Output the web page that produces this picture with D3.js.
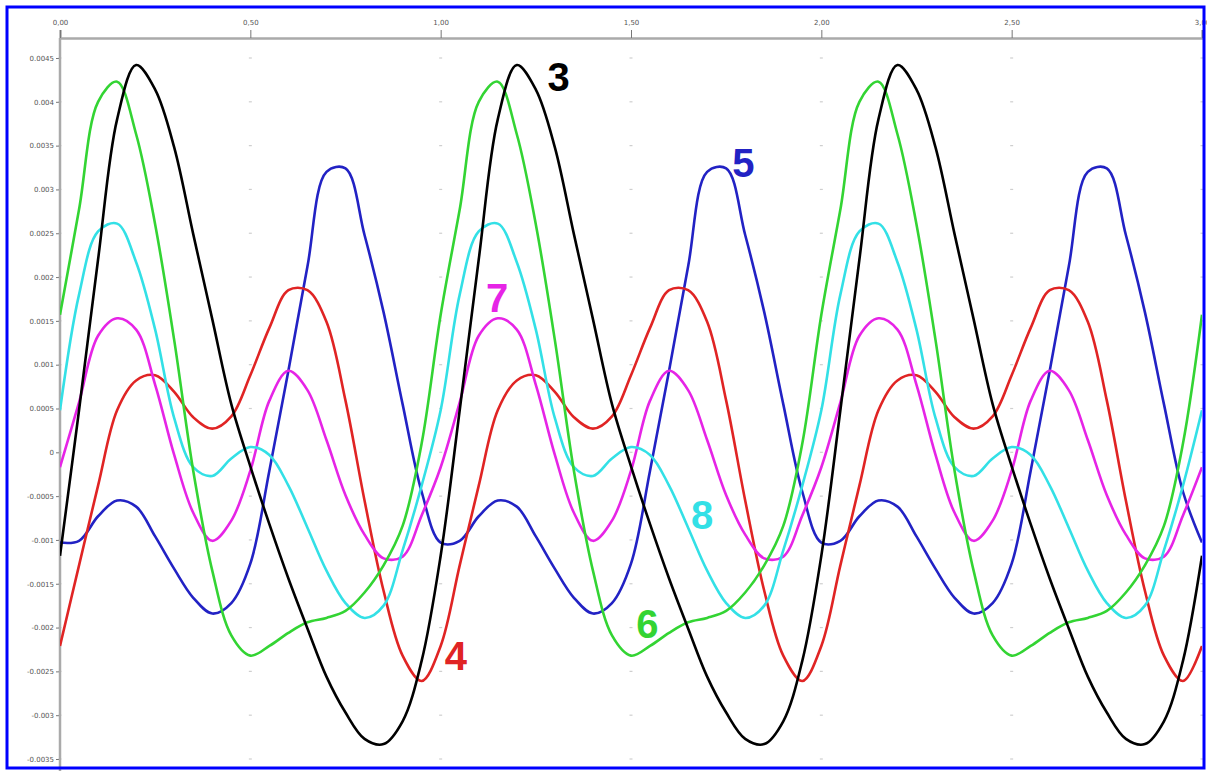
<!DOCTYPE html>
<html>
<head>
<meta charset="utf-8">
<script src="https://cdn.jsdelivr.net/npm/d3@7"></script>
<style>
  body { margin: 0; background: #fff; }
  svg { display: block; }
  .tick text { font-family: "DejaVu Sans", sans-serif; font-size: 7px; fill: #555; }
  .harm { font-family: "Liberation Sans", Arial, sans-serif; font-weight: bold; font-size: 40px; }
</style>
</head>
<body>
<svg id="chart"></svg>
<script>
// sample times (x axis units)
var times = [0,0.05,0.1,0.15,0.2,0.25,0.3,0.35,0.4,0.45,0.5,0.55,0.6,0.65,0.7,0.75,0.8,0.85,0.9,0.95,
  1,1.05,1.1,1.15,1.2,1.25,1.3,1.35,1.4,1.45,1.5,1.55,1.6,1.65,1.7,1.75,1.8,1.85,1.9,1.95,
  2,2.05,2.1,2.15,2.2,2.25,2.3,2.35,2.4,2.45,2.5,2.55,2.6,2.65,2.7,2.75,2.8,2.85,2.9,2.95,3];

var xTicks = [0, 0.5, 1, 1.5, 2, 2.5, 3];
var yTicks = [-0.0035,-0.003,-0.0025,-0.002,-0.0015,-0.001,-0.0005,0,0.0005,0.001,0.0015,0.002,0.0025,0.003,0.0035,0.004,0.0045];
var yTickLabels = ["-0.0035","-0.003","-0.0025","-0.002","-0.0015","-0.001","-0.0005","0","0.0005","0.001","0.0015","0.002","0.0025","0.003","0.0035","0.004","0.0045"];

var black3 = [-0.00118,0.00048,0.00220,0.00380,0.00442,0.00414,0.00348,0.00249,0.00152,0.00055,-0.00016,-0.00082,-0.00144,-0.00201,-0.00256,-0.00297,-0.00327,-0.00333,-0.00307,-0.00238,
  -0.00118,0.00048,0.00220,0.00380,0.00442,0.00414,0.00348,0.00249,0.00152,0.00055,-0.00016,-0.00082,-0.00144,-0.00201,-0.00256,-0.00297,-0.00327,-0.00333,-0.00307,-0.00238,
  -0.00118,0.00048,0.00220,0.00380,0.00442,0.00414,0.00348,0.00249,0.00152,0.00055,-0.00016,-0.00082,-0.00144,-0.00201,-0.00256,-0.00297,-0.00327,-0.00333,-0.00307,-0.00238,
  -0.00118];

var red4 = [-0.00221,-0.00129,-0.00038,0.00048,0.00082,0.00088,0.00069,0.00040,0.00027,0.00041,0.00088,0.00142,0.00185,0.00185,0.00149,0.00059,-0.00055,-0.00158,-0.00232,-0.00261,
  -0.00221,-0.00129,-0.00038,0.00048,0.00082,0.00088,0.00069,0.00040,0.00027,0.00041,0.00088,0.00142,0.00185,0.00185,0.00149,0.00059,-0.00055,-0.00158,-0.00232,-0.00261,
  -0.00221,-0.00129,-0.00038,0.00048,0.00082,0.00088,0.00069,0.00040,0.00027,0.00041,0.00088,0.00142,0.00185,0.00185,0.00149,0.00059,-0.00055,-0.00158,-0.00232,-0.00261,
  -0.00221];

var blue5 = [-0.00103,-0.00101,-0.00073,-0.00055,-0.00062,-0.00096,-0.00133,-0.00166,-0.00184,-0.00172,-0.00127,-0.00021,0.00093,0.00212,0.00320,0.00324,0.00248,0.00160,0.00055,-0.00045,
  -0.00103,-0.00101,-0.00073,-0.00055,-0.00062,-0.00096,-0.00133,-0.00166,-0.00184,-0.00172,-0.00127,-0.00021,0.00093,0.00212,0.00320,0.00324,0.00248,0.00160,0.00055,-0.00045,
  -0.00103,-0.00101,-0.00073,-0.00055,-0.00062,-0.00096,-0.00133,-0.00166,-0.00184,-0.00172,-0.00127,-0.00021,0.00093,0.00212,0.00320,0.00324,0.00248,0.00160,0.00055,-0.00045,
  -0.00103];

var green6 = [0.00157,0.00277,0.00400,0.00423,0.00363,0.00260,0.00128,-0.00021,-0.00135,-0.00209,-0.00232,-0.00221,-0.00206,-0.00194,-0.00189,-0.00181,-0.00160,-0.00129,-0.00084,0.00010,
  0.00157,0.00277,0.00400,0.00423,0.00363,0.00260,0.00128,-0.00021,-0.00135,-0.00209,-0.00232,-0.00221,-0.00206,-0.00194,-0.00189,-0.00181,-0.00160,-0.00129,-0.00084,0.00010,
  0.00157,0.00277,0.00400,0.00423,0.00363,0.00260,0.00128,-0.00021,-0.00135,-0.00209,-0.00232,-0.00221,-0.00206,-0.00194,-0.00189,-0.00181,-0.00160,-0.00129,-0.00084,0.00010,
  0.00157];

var magenta7 = [-0.00017,0.00057,0.00133,0.00153,0.00140,0.00077,-0.00003,-0.00069,-0.00101,-0.00078,-0.00021,0.00059,0.00093,0.00071,0.00014,-0.00049,-0.00094,-0.00121,-0.00119,-0.00072,
  -0.00017,0.00057,0.00133,0.00153,0.00140,0.00077,-0.00003,-0.00069,-0.00101,-0.00078,-0.00021,0.00059,0.00093,0.00071,0.00014,-0.00049,-0.00094,-0.00121,-0.00119,-0.00072,
  -0.00017,0.00057,0.00133,0.00153,0.00140,0.00077,-0.00003,-0.00069,-0.00101,-0.00078,-0.00021,0.00059,0.00093,0.00071,0.00014,-0.00049,-0.00094,-0.00121,-0.00119,-0.00072,
  -0.00017];

var cyan8 = [0.00048,0.00180,0.00252,0.00261,0.00217,0.00140,0.00039,-0.00017,-0.00027,-0.00007,0.00006,-0.00003,-0.00038,-0.00086,-0.00135,-0.00172,-0.00189,-0.00175,-0.00112,-0.00038,
  0.00048,0.00180,0.00252,0.00261,0.00217,0.00140,0.00039,-0.00017,-0.00027,-0.00007,0.00006,-0.00003,-0.00038,-0.00086,-0.00135,-0.00172,-0.00189,-0.00175,-0.00112,-0.00038,
  0.00048,0.00180,0.00252,0.00261,0.00217,0.00140,0.00039,-0.00017,-0.00027,-0.00007,0.00006,-0.00003,-0.00038,-0.00086,-0.00135,-0.00172,-0.00189,-0.00175,-0.00112,-0.00038,
  0.00048];

// series, drawn in this order
var seriesNames = ["5","4","7","8","6","3"];
var seriesValues = [blue5, red4, magenta7, cyan8, green6, black3];
var seriesColors = ["#2222c4","#e02424","#e624e6","#33e0e6","#33d433","#000000"];

// label positions in data units (x, y of baseline)
var labelNames = ["3","5","7","8","6","4"];
var labelX = [1.31, 1.795, 1.148, 1.687, 1.543, 1.04];
var labelY = [0.00412, 0.00314, 0.00160, -0.00087, -0.00212, -0.00249];
var labelColors = ["#000000","#2222c4","#e624e6","#33e0e6","#33d433","#e02424"];

var initGraph = function()
{
    var screen = {width:1207, height:771};
    var margins = {top:38, left:60, right:5};

    var svg = d3.select("#chart")
        .attr("width",screen.width)
        .attr("height",screen.height);

    var xScale = d3.scaleLinear()
        .domain([0,3])
        .range([60,1202]);

    var yScale = d3.scaleLinear()
        .domain([-0.0035,0.0045])
        .range([759,58]);

    svg.append("defs").append("clipPath")
        .attr("id","plotclip")
        .append("rect")
        .attr("x",60).attr("y",margins.top)
        .attr("width",1202-60).attr("height",screen.height-margins.top);

    //grid dots at tick crossings
    var grid = svg.append("g").classed("grid",true);
    xTicks.forEach(function(t)
    {
        grid.selectAll(null)
            .data(yTicks)
            .enter()
            .append("line")
            .attr("x1",xScale(t)-1.5)
            .attr("x2",xScale(t)+1.5)
            .attr("y1",function(v){return yScale(v);})
            .attr("y2",function(v){return yScale(v);})
            .attr("stroke","#cfcfcf")
            .attr("stroke-width",1.2);
    });

    //axes
    var xAxis = d3.axisTop(xScale)
        .tickValues(xTicks)
        .tickSize(8)
        .tickPadding(5)
        .tickFormat(function(d){return d3.format(".2f")(d).replace(".",",");});

    var yAxis = d3.axisLeft(yScale)
        .tickValues(yTicks)
        .tickSize(4)
        .tickPadding(2)
        .tickFormat(function(d,i){return yTickLabels[i];});

    var gx = svg.append("g")
        .attr("transform","translate(0,"+margins.top+")")
        .call(xAxis);
    gx.select(".domain").attr("stroke","#aaa").attr("stroke-width",2.5);
    gx.selectAll(".tick line").attr("stroke","#777");

    var gy = svg.append("g")
        .attr("transform","translate(60,0)")
        .call(yAxis);
    gy.select(".domain").remove();
    gy.selectAll(".tick line").attr("stroke","#777");
    gy.append("line")
        .attr("x1",0).attr("x2",0)
        .attr("y1",margins.top).attr("y2",screen.height)
        .attr("stroke","#aaa")
        .attr("stroke-width",2.5);

    //lines
    var lineGenerator = d3.line()
        .x(function(v,i){return xScale(times[i]);})
        .y(function(v){return yScale(v);})
        .curve(d3.curveCatmullRom);

    svg.append("g")
        .attr("clip-path","url(#plotclip)")
        .selectAll("path")
        .data(seriesValues)
        .enter()
        .append("path")
        .attr("fill","none")
        .attr("stroke",function(d,i){return seriesColors[i];})
        .attr("stroke-width",2.6)
        .attr("d",lineGenerator);

    //harmonic labels
    svg.append("g")
        .selectAll("text")
        .data(labelNames)
        .enter()
        .append("text")
        .classed("harm",true)
        .attr("text-anchor","middle")
        .attr("x",function(d,i){return xScale(labelX[i]);})
        .attr("y",function(d,i){return yScale(labelY[i]);})
        .attr("fill",function(d,i){return labelColors[i];})
        .text(function(d){return d;});

    //blue frame
    svg.append("rect")
        .attr("x",7).attr("y",7)
        .attr("width",1197).attr("height",761)
        .attr("fill","none")
        .attr("stroke","#0000ff")
        .attr("stroke-width",3);
}

initGraph();
</script>
</body>
</html>
